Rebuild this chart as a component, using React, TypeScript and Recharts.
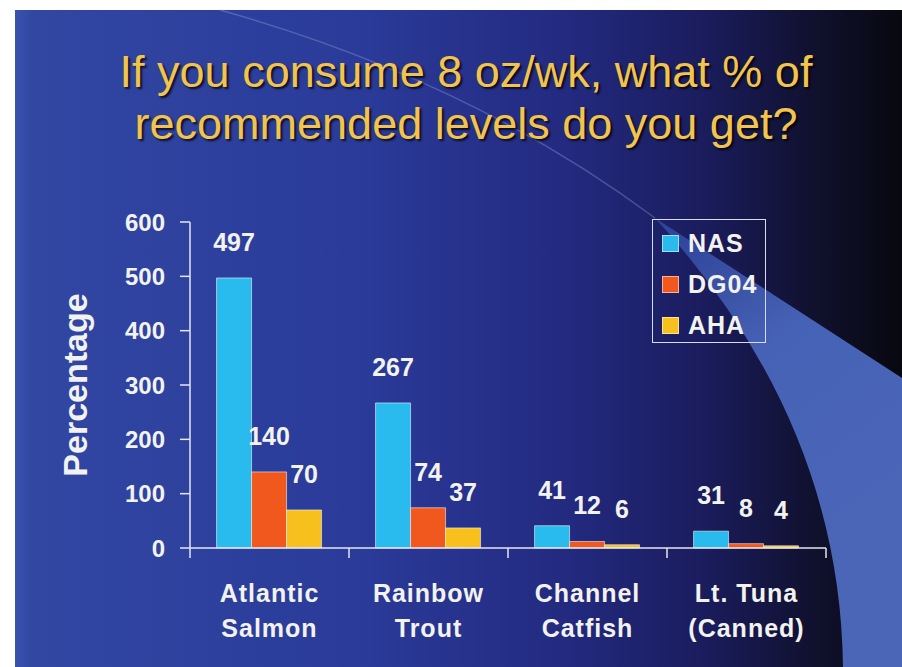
import React from "react";
import { Bar, BarChart, LabelList, Legend, XAxis, YAxis } from "recharts";

// values
const categories = ["Atlantic\nSalmon", "Rainbow\nTrout", "Channel\nCatfish", "Lt. Tuna\n(Canned)"];
const nasValues = [497, 267, 41, 31];
const dg04Values = [140, 74, 12, 8];
const ahaValues = [70, 37, 6, 4];
const yTicks = [0, 100, 200, 300, 400, 500, 600];
const titleLines = ["If you consume 8 oz/wk, what % of", "recommended levels do you get?"];

const data = categories.map((category, i) => ({
	category,
	NAS: nasValues[i],
	DG04: dg04Values[i],
	AHA: ahaValues[i],
}));

const series = [
	{ key: "NAS", color: "#2abbee" },
	{ key: "DG04", color: "#f1581d" },
	{ key: "AHA", color: "#f7c01c" },
];

const FONT = '"Liberation Sans", Arial, sans-serif';
const AXIS = "#e4e6f0";
const TEXT = "#f2f2ee";
const W = 902;
const H = 667;
const MARGIN = { top: 222, right: 76, bottom: 39, left: 40 };
const Y_AXIS_W = 150;

function CategoryTick(props: any) {
	const { x, y, payload, index, visibleTicksCount } = props;
	const fallbackHalf = (W - MARGIN.left - Y_AXIS_W - MARGIN.right) / categories.length / 2;
	const half = payload?.offset ? payload.offset : fallbackHalf;
	const count = visibleTicksCount ?? categories.length;
	const lines = String(payload.value).split("\n");
	return (
		<g>
			<line x1={x - half} x2={x - half} y1={y} y2={y + 10} stroke={AXIS} strokeWidth={1.5} />
			{index === count - 1 && (
				<line x1={x + half} x2={x + half} y1={y} y2={y + 10} stroke={AXIS} strokeWidth={1.5} />
			)}
			<text
				x={x}
				y={y + 54}
				textAnchor="middle"
				fill={TEXT}
				fontSize={25}
				fontWeight={700}
				letterSpacing={1}
			>
				{lines.map((line, i) => (
					<tspan key={i} x={x} dy={i === 0 ? 0 : 35}>
						{line}
					</tspan>
				))}
			</text>
		</g>
	);
}

function AxisTitle(props: any) {
	const vb = props.viewBox || { x: MARGIN.left, y: MARGIN.top, width: Y_AXIS_W, height: 326 };
	const cx = vb.x + 35;
	const cy = vb.y + vb.height / 2;
	return (
		<text
			x={cx}
			y={cy}
			transform={`rotate(-90 ${cx} ${cy})`}
			textAnchor="middle"
			dominantBaseline="central"
			fill={TEXT}
			fontSize={34}
			fontWeight={700}
		>
			Percentage
		</text>
	);
}

function LegendBox(props: any) {
	const order = series.map((s) => s.key);
	const items = [...(props.payload || [])].sort(
		(a: any, b: any) => order.indexOf(a.dataKey ?? a.value) - order.indexOf(b.dataKey ?? b.value),
	);
	return (
		<div
			style={{
				position: "relative",
				width: 114,
				height: 124,
				boxSizing: "border-box",
				border: "1.5px solid #d9dcf0",
				fontFamily: FONT,
			}}
		>
			{items.map((item: any, i: number) => (
				<div key={item.value} style={{ position: "absolute", left: 0, top: 3 + i * 41, height: 41, width: 110 }}>
					<div
						style={{
							position: "absolute",
							left: 9,
							top: 12,
							width: 17,
							height: 17,
							boxSizing: "border-box",
							background: item.color,
							border: "1px solid rgba(255,255,255,0.55)",
						}}
					/>
					<div
						style={{
							position: "absolute",
							left: 35,
							top: 0,
							lineHeight: "41px",
							fontSize: 25,
							fontWeight: 700,
							letterSpacing: 1,
							color: TEXT,
						}}
					>
						{item.value}
					</div>
				</div>
			))}
		</div>
	);
}

function SlideBackground() {
	return (
		<svg width={W} height={H} style={{ position: "absolute", left: 0, top: 0 }}>
			<defs>
				<linearGradient id="bg" x1="0" y1="0" x2="1" y2="0">
					<stop offset="0%" stopColor="#3148a3" />
					<stop offset="40%" stopColor="#2a3a98" />
					<stop offset="62%" stopColor="#232a80" />
					<stop offset="78%" stopColor="#1a1c5c" />
					<stop offset="90%" stopColor="#10112e" />
					<stop offset="100%" stopColor="#08080f" />
				</linearGradient>
				<linearGradient id="swoosh" x1="655" y1="218" x2="880" y2="520" gradientUnits="userSpaceOnUse">
					<stop offset="0%" stopColor="#3550ae" stopOpacity={0.7} />
					<stop offset="45%" stopColor="#4662b6" />
					<stop offset="100%" stopColor="#4b66b7" />
				</linearGradient>
				<linearGradient id="edge" x1="0" y1="0" x2="1" y2="0">
					<stop offset="0%" stopColor="#3a55b0" stopOpacity={0.8} />
					<stop offset="100%" stopColor="#3a55b0" stopOpacity={0} />
				</linearGradient>
			</defs>
			<rect x={0} y={0} width={W} height={H} fill="#ffffff" />
			<rect x={15} y={10} width={W - 15} height={H - 10} fill="url(#bg)" />
			<rect x={15} y={10} width={18} height={H - 10} fill="url(#edge)" />
			<path d="M655,218 L902,378 L902,667 L843,667 Q840,420 655,218 Z" fill="url(#swoosh)" />
			<path d="M220,10 Q470,80 655,218" fill="none" stroke="rgba(150,170,225,0.35)" strokeWidth={1.5} />
		</svg>
	);
}

export default function App() {
	return (
		<div style={{ position: "absolute", left: 0, top: 0, width: W, height: H, overflow: "hidden", fontFamily: FONT }}>
			<SlideBackground />
			<div
				style={{
					position: "absolute",
					left: 30,
					top: 46,
					width: 872,
					textAlign: "center",
					fontSize: 45,
					lineHeight: "52px",
					color: "#f2c44e",
					textShadow: "2px 2px 2px rgba(0,0,0,0.75)",
				}}
			>
				{titleLines.map((line) => (
					<div key={line}>{line}</div>
				))}
			</div>
			<div style={{ position: "absolute", left: 0, top: 0 }}>
				<BarChart
					width={W}
					height={H}
					data={data}
					margin={MARGIN}
					barCategoryGap="16.7%"
					barGap={0}
				>
					<XAxis
						dataKey="category"
						height={80}
						interval={0}
						axisLine={{ stroke: AXIS, strokeWidth: 1.5 }}
						tickLine={false}
						tickSize={0}
						tickMargin={0}
						tick={<CategoryTick />}
					/>
					<YAxis
						width={Y_AXIS_W}
						domain={[0, 600]}
						ticks={yTicks}
						interval={0}
						axisLine={{ stroke: AXIS, strokeWidth: 1.5 }}
						tickLine={{ stroke: AXIS, strokeWidth: 1.5 }}
						tickSize={10}
						tickMargin={15}
						tick={{ fill: TEXT, fontSize: 24, fontWeight: 700 }}
						label={{ content: (p: any) => <AxisTitle {...p} /> }}
					/>
					<Legend
						layout="vertical"
						align="center"
						verticalAlign="middle"
						wrapperStyle={{ left: 652, top: 219, width: 114, height: 124 }}
						content={(p: any) => <LegendBox {...p} />}
					/>
					{series.map((s) => (
						<Bar
							key={s.key}
							dataKey={s.key}
							fill={s.color}
							stroke="rgba(255,255,255,0.55)"
							strokeWidth={1}
							isAnimationActive={false}
						>
							<LabelList
								dataKey={s.key}
								position="top"
								offset={27}
								fill={TEXT}
								fontSize={25}
								fontWeight={700}
							/>
						</Bar>
					))}
				</BarChart>
			</div>
		</div>
	);
}
